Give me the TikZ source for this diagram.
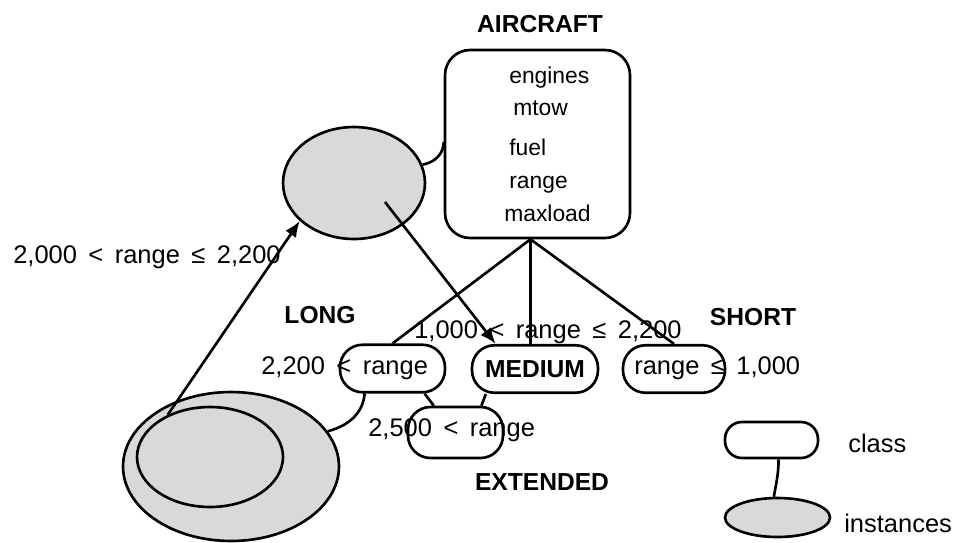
\documentclass[tikz,border=0pt]{standalone}
\usepackage{fontspec}
\setmainfont{Liberation Sans}
\usepackage{tikz}
\usetikzlibrary{arrows.meta,calc,positioning,shapes.geometric}

\begin{document}
\begin{tikzpicture}[x=0.02cm, y=-0.02cm, line width=1.5pt,
  every node/.style={font=\fontsize{14.5}{16}\selectfont, inner sep=0pt},
  lbl/.style={anchor=west, execute at begin node={\spaceskip=0.45em plus 0.1em\relax}},
  head/.style={font=\fontsize{14}{16}\selectfont\bfseries},
  attr/.style={anchor=west, font=\fontsize{13}{15}\selectfont},
  cls/.style={draw, rectangle, rounded corners=0.45cm, minimum height=0.95cm},
  inst/.style={draw, ellipse, fill=gray!30}]
\useasboundingbox (0,0) rectangle (977,542);
% --- classe AIRCRAFT ---
\node[head] (aircraftlbl) at (540,24) {AIRCRAFT};
\node[draw, rounded corners=0.5cm, minimum width=3.7cm, minimum height=3.76cm] (aircraft) at (537.5,144) {};
\node[attr] (engines) at (508,78) {engines};
\node[attr] (mtow) at (512,108) {mtow};
\node[attr] (fuel) at (508,147) {fuel};
\node[attr] (range) at (508,185) {range};
\node[attr] (maxload) at (503,213) {maxload};
% --- istanze ---
\node[inst, minimum width=2.84cm, minimum height=2.24cm] (allset) at (354,183) {};
\node[inst, minimum width=4.32cm, minimum height=2.98cm] (longset) at (231,466.5) {};
\node[inst, minimum width=2.92cm, minimum height=2cm] (extset) at (210,457) {};
\draw (allset.15) to[out=10, in=-90] ($(aircraft.west)+(0,-2)$);
% --- sottoclassi ---
\node[cls, minimum width=2.1cm] (longcls) at (392.5,368.5) {};
\node[cls, minimum width=2.52cm, head] (medium) at (535,369) {MEDIUM};
\node[cls, minimum width=2.04cm] (shortcls) at (674,369) {};
\node[cls, minimum width=1.9cm, minimum height=1.02cm] (extcls) at (455.5,432.5) {};
\coordinate (hub) at ($(aircraft.south)+(-7,0)$);
\draw (hub) -- (longcls.north);
\draw (hub) -- (hub |- medium.north);
\draw (hub) -- (shortcls.north);
\draw (longcls.-38) -- (extcls.129);
\draw (medium.-153) -- (extcls.46);
\draw (longcls.-138) to[out=-95, in=15] (longset.20);
% --- frecce ---
\coordinate (inpt) at (385,202);
\draw[-{Latex[length=3.2mm,width=2.6mm]}] (extset.135) -- (allset.-145);
\draw[-{Latex[length=3.2mm,width=2.6mm]}] (inpt) -- ($(medium.north west)+(25,0)$);
% --- etichette ---
\node[lbl] (longtxt) at (260,368) {2,200 < range};
\node[lbl] (shorttxt) at (633,368) {range ≤ 1,000};
\node[lbl] (exttxt) at (367,430) {2,500 < range};
\node[lbl] (medtxt) at (413,332) {1,000 < range ≤ 2,200};
\node[lbl] (arrtxt) at (12,257) {2,000 < range ≤ 2,200};
\node[head] (longlbl) at (320,315) {LONG};
\node[head] (shortlbl) at (753,317) {SHORT};
\node[head] (extlbl) at (542,482) {EXTENDED};
% --- legenda ---
\node[cls, minimum width=1.86cm, minimum height=0.72cm, rounded corners=0.34cm] (legcls) at (771.5,440) {};
\node[inst, minimum width=2.1cm, minimum height=0.78cm] (leginst) at (777.5,517.5) {};
\draw (legcls.-70) to[out=-90, in=80] (leginst.100);
\node[lbl] (clstxt) at (847,443) {class};
\node[lbl] (insttxt) at (843,523) {instances};
\end{tikzpicture}
\end{document}
